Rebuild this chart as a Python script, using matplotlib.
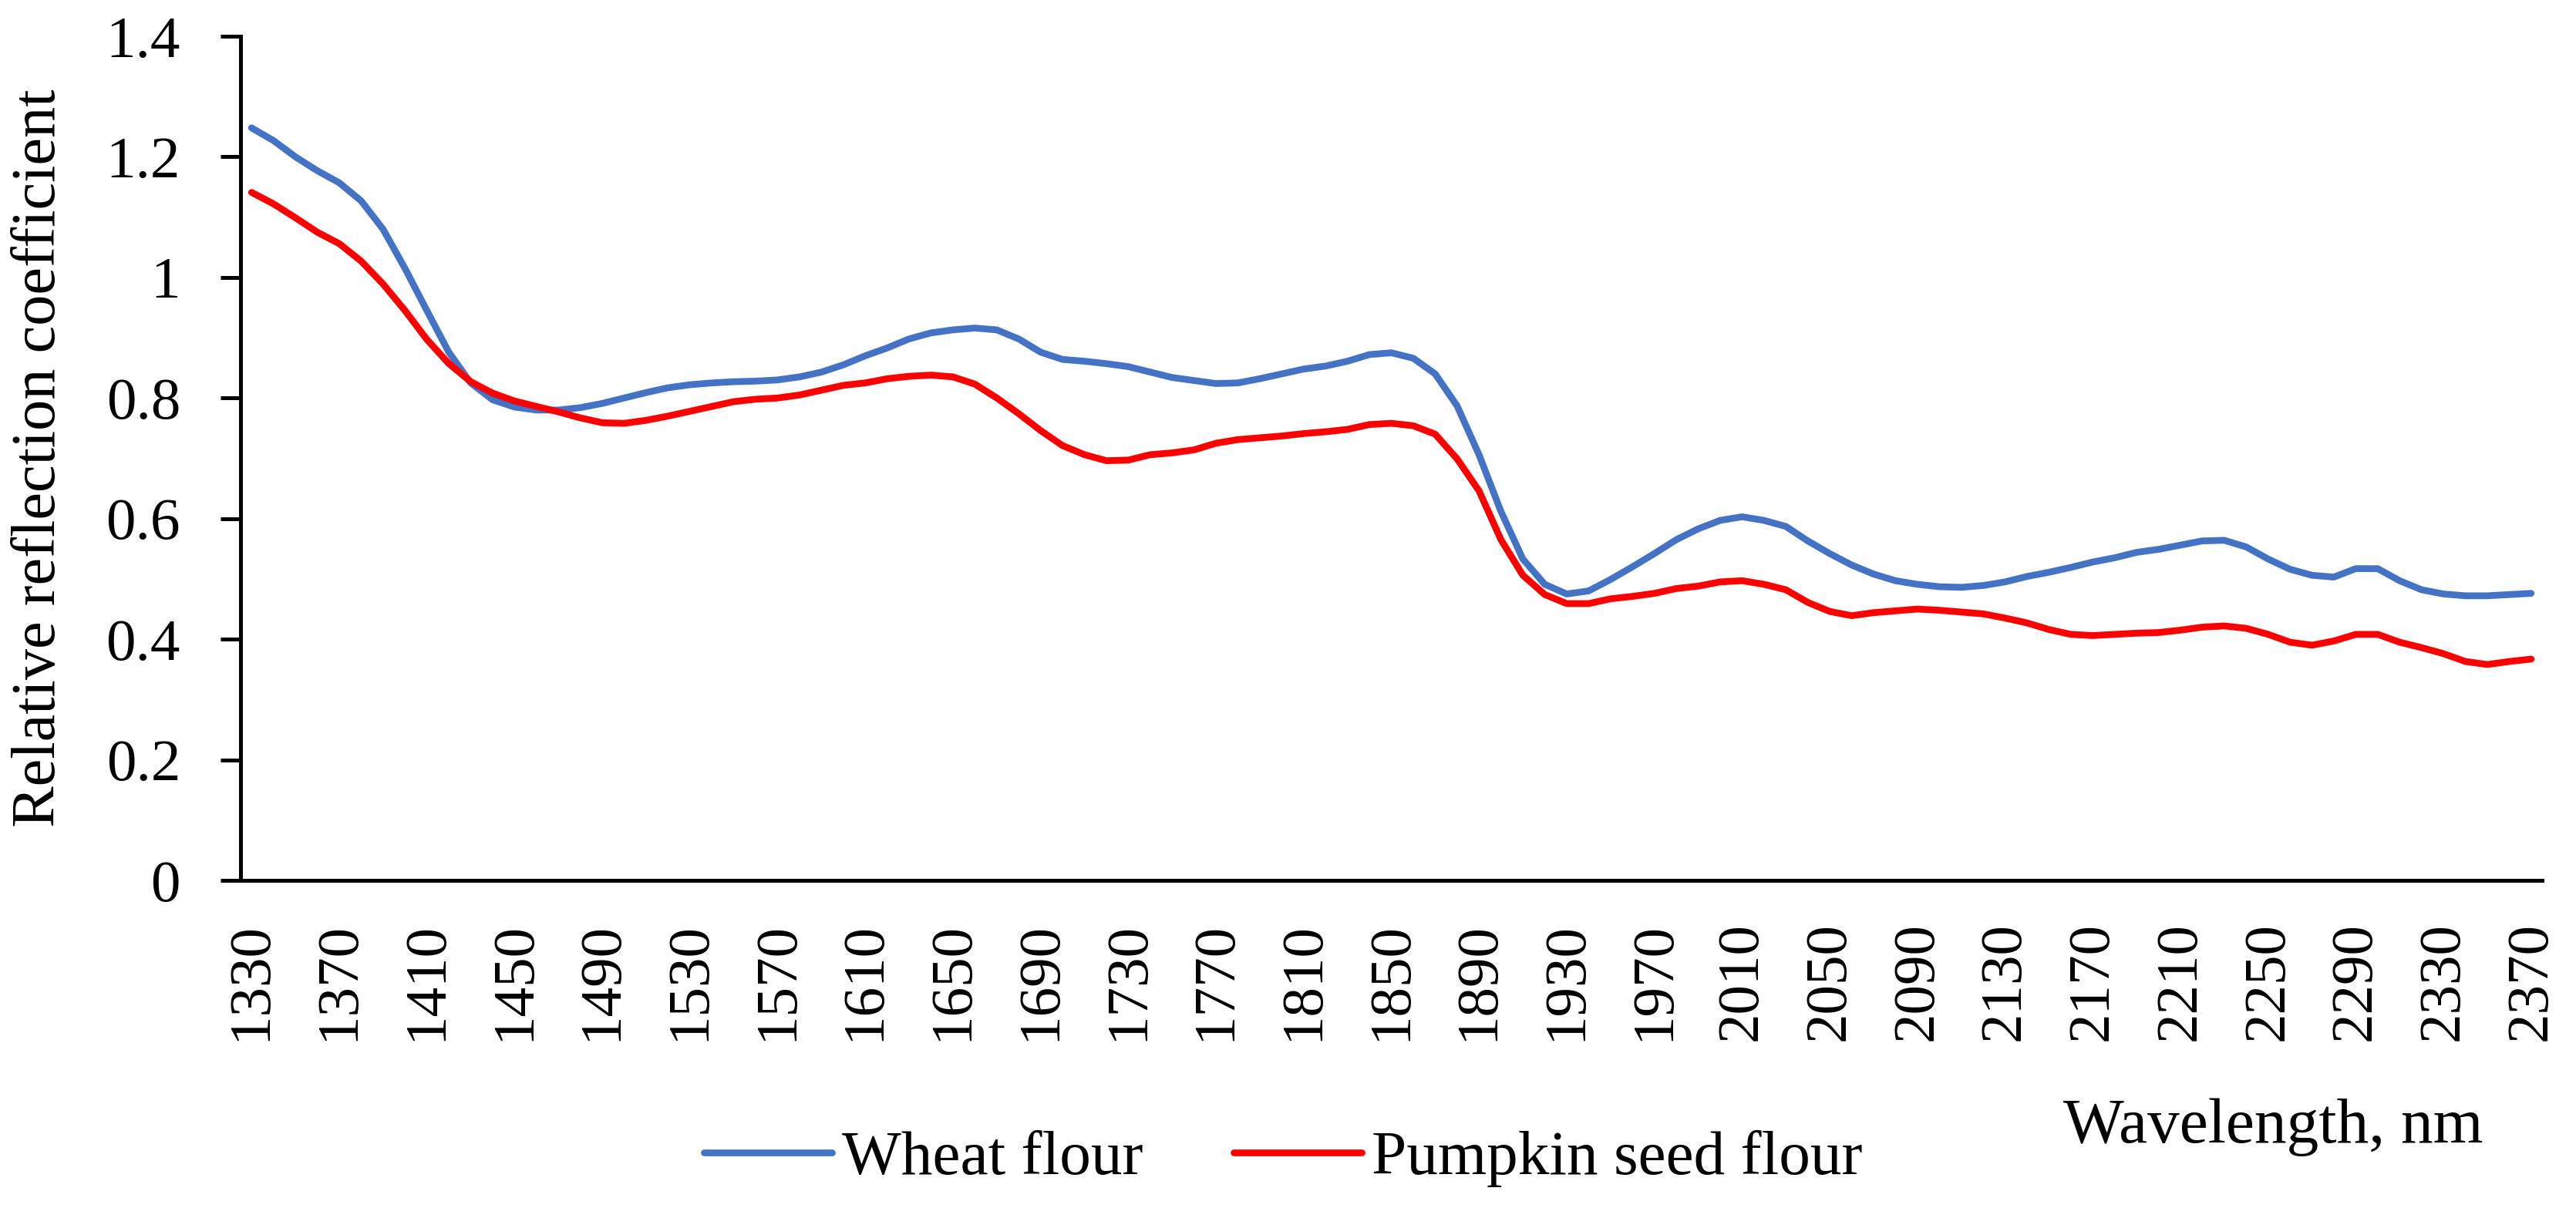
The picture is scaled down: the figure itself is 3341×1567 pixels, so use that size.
import matplotlib
matplotlib.use("Agg")
import matplotlib.pyplot as plt
import numpy as np

wavelength = list(range(1330, 2371, 10))

wheat = [1.248, 1.227, 1.200, 1.177, 1.157, 1.127, 1.080, 1.015, 0.945, 0.876,
         0.825, 0.797, 0.785, 0.780, 0.780, 0.784, 0.791, 0.800, 0.809, 0.817,
         0.822, 0.825, 0.827, 0.828, 0.830, 0.835, 0.843, 0.855,
         0.870, 0.883, 0.898, 0.908, 0.913, 0.916, 0.913, 0.898, 0.876, 0.864,
         0.861, 0.857, 0.852, 0.843, 0.834, 0.829, 0.824,
         0.825, 0.832, 0.840, 0.848,
         0.853, 0.861, 0.872, 0.875, 0.866, 0.840, 0.787, 0.706, 0.612, 0.533,
         0.491, 0.475, 0.480, 0.499, 0.520, 0.542, 0.565,
         0.583, 0.597, 0.603, 0.597,
         0.587, 0.563, 0.542, 0.523, 0.508, 0.497, 0.491, 0.487, 0.486, 0.489,
         0.495, 0.504, 0.511, 0.519, 0.528, 0.535, 0.544,
         0.549, 0.556, 0.563, 0.564, 0.553, 0.533, 0.516, 0.506, 0.503, 0.517,
         0.517, 0.497, 0.482, 0.475, 0.472, 0.472, 0.474, 0.476]

pumpkin = [1.141, 1.122, 1.099, 1.075, 1.056, 1.027, 0.989, 0.945, 0.897, 0.857,
           0.827, 0.808, 0.795, 0.786, 0.777, 0.767, 0.759, 0.758, 0.763, 0.770,
           0.778, 0.786, 0.794, 0.798, 0.800, 0.805, 0.813, 0.821,
           0.825, 0.832, 0.836, 0.838, 0.835, 0.823, 0.800, 0.774, 0.746, 0.721,
           0.706, 0.696, 0.697, 0.706, 0.709, 0.714, 0.725,
           0.731, 0.734, 0.737, 0.741,
           0.744, 0.748, 0.756, 0.758, 0.754, 0.740, 0.699, 0.646, 0.565, 0.506,
           0.474, 0.459, 0.459, 0.467, 0.471, 0.476, 0.484,
           0.488, 0.495, 0.497, 0.491,
           0.482, 0.461, 0.446, 0.439, 0.444, 0.447, 0.450, 0.448, 0.445, 0.442,
           0.435, 0.427, 0.416, 0.408, 0.406, 0.408, 0.410,
           0.411, 0.415, 0.420, 0.422, 0.418, 0.408, 0.395, 0.390, 0.397, 0.408,
           0.408, 0.395, 0.386, 0.376, 0.363, 0.358, 0.363, 0.367]

x_tick_labels = list(range(1330, 2371, 40))
y_ticks = [0, 0.2, 0.4, 0.6, 0.8, 1.0, 1.2, 1.4]
y_tick_labels = ["0", "0.2", "0.4", "0.6", "0.8", "1", "1.2", "1.4"]

plt.rcParams['font.family'] = ['Liberation Serif', 'DejaVu Serif']

W, H = 3341, 1567
fig = plt.figure(figsize=(W / 300, H / 300), dpi=300)
ax_left, ax_right = 312 / W, 3297 / W
ax_top, ax_bot = 1 - 47 / H, 1 - 1142 / H
ax = fig.add_axes([ax_left, ax_bot, ax_right - ax_left, ax_top - ax_bot])

ax.plot(wavelength, wheat, color='#4472C4', lw=2.1, label='Wheat flour',
        solid_joinstyle='round', solid_capstyle='round')
ax.plot(wavelength, pumpkin, color='#FF0000', lw=2.1, label='Pumpkin seed flour',
        solid_joinstyle='round', solid_capstyle='round')

ax.set_xlim(1325, 2375)
ax.set_ylim(0, 1.4)
ax.set_yticks(y_ticks)
ax.set_yticklabels(y_tick_labels, fontsize=18.5)
ax.set_xticks(x_tick_labels)
ax.set_xticklabels([str(v) for v in x_tick_labels], rotation=90, fontsize=18.5)

for s in ['top', 'right']:
    ax.spines[s].set_visible(False)
for s in ['left', 'bottom']:
    ax.spines[s].set_linewidth(1.2)

ax.tick_params(axis='y', direction='out', length=6.2, width=1.2, pad=12.5)
ax.tick_params(axis='x', length=0, pad=13)

fig.text(52 / W, (ax_top + ax_bot) / 2, 'Relative reflection coefficient', fontsize=19.3,
         rotation=90, ha='center', va='center')
fig.text(3220 / W, 1 - 1462 / H, 'Wavelength, nm', fontsize=20, ha='right', va='center')

leg = fig.legend(loc='center', bbox_to_anchor=(1664 / W, 1 - 1503 / H), ncol=2, frameon=False,
                 fontsize=19.5, handlelength=2.05, handletextpad=0.15, columnspacing=1.45)

fig.savefig('out.png', dpi=300)
